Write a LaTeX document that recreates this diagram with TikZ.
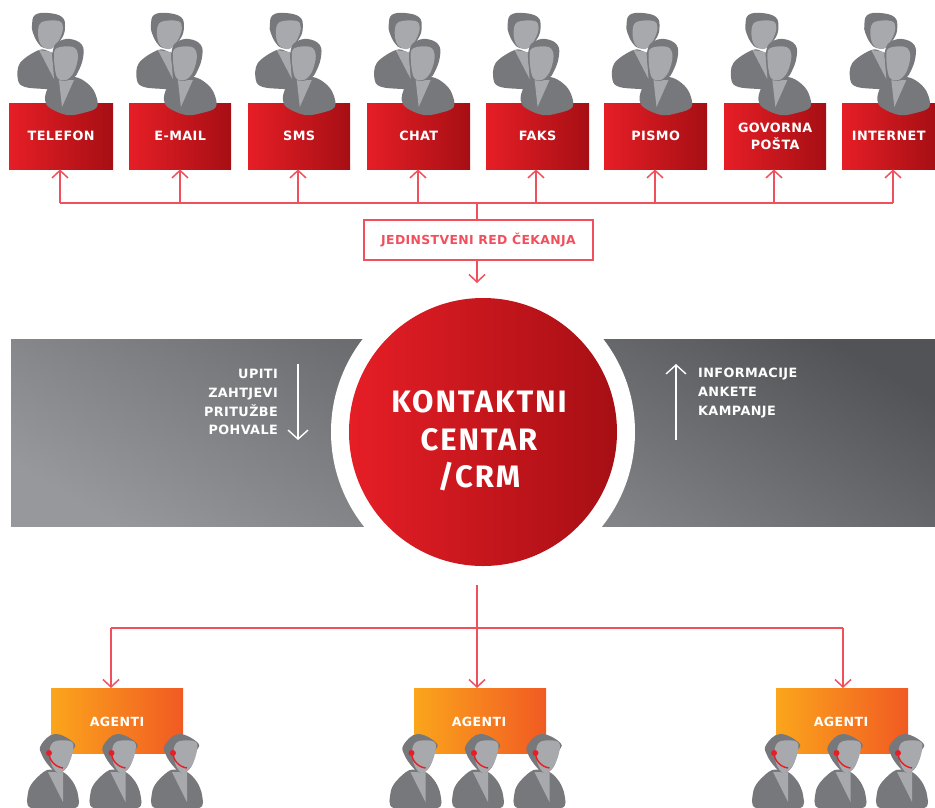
\documentclass[tikz,border=0pt]{standalone}
\usepackage{fontspec}
\setmainfont{DejaVu Sans}
\newfontfamily\lblfontbase[LetterSpace=3]{DejaVu Sans}
\newcommand{\lblfont}{\lblfontbase\bfseries}
\newfontfamily\bigfontbase[LetterSpace=6]{Fira Sans}
\newcommand{\bigfont}{\bigfontbase\bfseries}
\usetikzlibrary{arrows.meta}
\definecolor{rA}{HTML}{E61E26}
\definecolor{rB}{HTML}{A60F14}
\definecolor{oA}{HTML}{FBA51C}
\definecolor{oB}{HTML}{F15A22}
\definecolor{lnk}{HTML}{F0505C}
\definecolor{dk}{HTML}{77787B}
\definecolor{lt}{HTML}{A7A9AC}
\definecolor{gA}{HTML}{96989B}
\definecolor{gB}{HTML}{696A6D}
\definecolor{gC}{HTML}{848689}
\definecolor{gD}{HTML}{525357}
\tikzset{
  redbox/.style={inner sep=0pt,minimum height=66pt,left color=rA,right color=rB,text=white,align=center,font=\lblfont\fontsize{12.8}{17}\selectfont,anchor=north west},
  orangebox/.style={inner sep=0pt,minimum width=132pt,minimum height=65pt,left color=oA,right color=oB,anchor=north west},
  agentlabel/.style={text=white,font=\lblfont\fontsize{12.6}{15}\selectfont,inner sep=0pt},
  titletext/.style={text=white,font=\bigfont\fontsize{31}{38}\selectfont,inner sep=0pt},
  link/.style={draw=lnk,line width=1.5pt},
  linkar/.style={link,-{Straight Barb[length=7.5pt,width=16pt,line width=1.5pt]}},
  whitear/.style={draw=white,line width=1.4pt,-{Straight Barb[length=9pt,width=20pt,line width=1.4pt]}},
  bandtext/.style={text=white,font=\lblfont\fontsize{12.8}{15}\selectfont,inner sep=0pt},
  pairpic/.pic={
    % back person
    \fill[dk] plot[smooth cycle,tension=0.6] coordinates {(39,50) (20,63) (18,80) (25,87) (45,89) (65,90) (65,60) (50,52)};
    \fill[lt] (39,50) -- (52,52) -- (54,79) -- cycle;
    \fill[dk] plot[smooth cycle,tension=0.7] coordinates {(32,25) (35,15) (48,13) (62,17) (65,27) (62,38) (53,47) (44,48) (38,43) (33,33)};
    \fill[lt] plot[smooth cycle,tension=0.6] coordinates {(38,32) (42,22) (59,21) (63,28) (59,40) (51,49) (41,45)};
    % front person
    \fill[dk] plot[smooth cycle,tension=0.6] coordinates {(58,78) (48,88) (45,100) (50,108) (67,115) (83,113) (97,107) (95,93) (87,83) (75,77)};
    \fill[lt] (59,80) -- (74,80) -- (62,107) -- cycle;
    \fill[dk] plot[smooth cycle,tension=0.7] coordinates {(53,50) (58,42) (70,39) (82,45) (83,58) (78,72) (73,78) (63,81) (57,77) (53,63)};
    \fill[lt] plot[smooth cycle,tension=0.6] coordinates {(54,57) (57,48) (73,47) (78,56) (74,72) (66,80) (57,77)};
  },
  agentpic/.pic={
    \fill[dk] plot[smooth cycle,tension=0.5] coordinates {(47,770) (33,782) (28,793) (31,808) (75,808) (78,795) (73,782) (63,772)};
    \fill[lt] (48,772) -- (63,772) -- (63,802) -- cycle;
    \fill[dk] plot[smooth cycle,tension=0.7] coordinates {(41,745) (55,734) (74,743) (72,752) (67,767) (58,773) (50,767) (42,755)};
    \fill[lt] plot[smooth cycle,tension=0.6] coordinates {(50,748) (56,741) (72,742) (72,755) (66,768) (58,773) (51,763)};
    \draw[rA,line width=1.4pt] (49,753) .. controls (49,760) and (55,767) .. (63,768);
    \fill[rA] (49,753) circle (3pt);
  },
}
\begin{document}
\begin{tikzpicture}[x=1pt,y=-1pt]
\useasboundingbox (0,0) rectangle (935,807);
% grey bands
\shade[left color=gA,right color=gB,shading angle=150] (11,339) rectangle (483,526);
\shade[left color=gC,right color=gD,shading angle=150] (483,339) rectangle (935,526);
\fill[white] (483,432) circle (152pt);
% centre
\node[circle,minimum size=268pt,inner sep=0pt,left color=rA,right color=rB] (crm) at (483,432) {};
\node[titletext] (t1) at (479,402) {KONTAKTNI};
\node[titletext] (t2) at (479,440) {CENTAR};
\node[titletext] (t3) at (479,477) {/CRM};
% band labels
\node[bandtext,anchor=base east] (u1) at (278,378) {UPITI};
\node[bandtext,anchor=base east] (u2) at (278,397) {ZAHTJEVI};
\node[bandtext,anchor=base east] (u3) at (278,416) {PRITUŽBE};
\node[bandtext,anchor=base east] (u4) at (278,434) {POHVALE};
\node[bandtext,anchor=base west] (v1) at (698,377) {INFORMACIJE};
\node[bandtext,anchor=base west] (v2) at (698,396) {ANKETE};
\node[bandtext,anchor=base west] (v3) at (698,415) {KAMPANJE};
\coordinate (da) at (298,364); \coordinate (db) at (298,440);
\coordinate (ua) at (676,440); \coordinate (ub) at (676,364);
\draw[whitear] (da) -- (db);
\draw[whitear] (ua) -- (ub);
% top boxes
\node[redbox,minimum width=104pt] (b1) at (9,103) {TELEFON};
\node[redbox,minimum width=102pt] (b2) at (129,103) {E-MAIL};
\node[redbox,minimum width=102pt] (b3) at (248,103) {SMS};
\node[redbox,minimum width=103pt] (b4) at (367,103) {CHAT};
\node[redbox,minimum width=103pt] (b5) at (486,103) {FAKS};
\node[redbox,minimum width=103pt] (b6) at (604,103) {PISMO};
\node[redbox,minimum width=102pt] (b7) at (724,103) {GOVORNA\\POŠTA};
\node[redbox,minimum width=93pt] (b8) at (842,103) {INTERNET};
% people
\foreach \i in {0,...,7}{
  \pgfmathsetmacro\xa{118.9*\i}
  \pic at (\xa,0) {pairpic};
}
% queue
\node[draw=lnk,line width=1.5pt,fill=white,minimum width=229pt,minimum height=40pt,inner sep=0pt,text=lnk,font=\lblfont\fontsize{12.4}{14}\selectfont] (q) at (478.5,240) {JEDINSTVENI RED ČEKANJA};
\coordinate (bus) at (477,203);
\coordinate (qend) at (477,283);
\foreach \n/\xp in {b1/60,b2/180,b3/298,b4/418,b5/536,b6/655,b7/774,b8/893}{
  \coordinate (j\n) at (\xp,203);
  \draw[linkar] (j\n) -- (\n.south -| j\n);
}
\draw[link] (60,203) -- (893,203);
\draw[link] (bus) -- (bus |- q.north);
\draw[linkar] (bus |- q.south) -- (qend);
% agents
\node[orangebox] (a1) at (51,688) {};
\node[orangebox] (a2) at (414,688) {};
\node[orangebox] (a3) at (776,688) {};
\node[agentlabel] (al1) at (117,722) {AGENTI};
\node[agentlabel] (al2) at (479,722) {AGENTI};
\node[agentlabel] (al3) at (841,722) {AGENTI};
\foreach \d in {0,362.5,725}{
  \foreach \o in {0,62.5,124}{
    \pgfmathsetmacro\xx{\o+\d}
    \pic at (\xx,0) {agentpic};
  }
}
\coordinate (s) at (477,585);
\coordinate (hl) at (111,628);
\coordinate (hr) at (843,628);
\draw[link] (hl) -- (hr);
\draw[linkar] (s) -- (s |- a2.north);
\draw[linkar] (hl) -- (hl |- a1.north);
\draw[linkar] (hr) -- (hr |- a3.north);
\end{tikzpicture}
\end{document}
